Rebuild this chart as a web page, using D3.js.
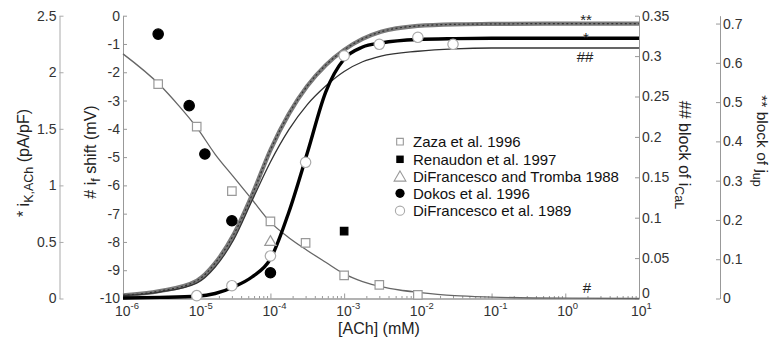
<!DOCTYPE html>
<html><head><meta charset="utf-8">
<script src="https://cdn.jsdelivr.net/npm/d3@7"></script>
<style>
body{margin:0;background:#fff;}
svg{display:block;font-family:"Liberation Sans",Arial,sans-serif;}
</style></head><body>
<svg id="c" width="771" height="342"></svg>
<script>
// ---------- data ----------
const xTicks = [1e-6,1e-5,1e-4,1e-3,1e-2,1e-1,1,10];
const xTickExp = ["-6","-5","-4","-3","-2","-1","0","1"];
const kTicks = [0,0.5,1,1.5,2,2.5];
const kLabels = ["0","0.5","1","1.5","2","2.5"];
const ifTicks = [-10,-9,-8,-7,-6,-5,-4,-3,-2,-1,0];
const ifLabels = ["-10","-9","-8","-7","-6","-5","-4","-3","-2","-1","0"];
const calTicks = [0,0.05,0.1,0.15,0.2,0.25,0.3,0.35];
const calLabels = ["0","0.05","0.1","0.15","0.2","0.25","0.3","0.35"];
const upTicks = [0,0.1,0.2,0.3,0.4,0.5,0.6,0.7];
const upLabels = ["0","0.1","0.2","0.3","0.4","0.5","0.6","0.7"];

// model curves
const curveConc = [1e-6,3.16e-6,1e-5,1.78e-5,3.16e-5,5.62e-5,1e-4,1.78e-4,3.16e-4,5.62e-4,1e-3,1.78e-3,3.16e-3,1e-2,3.16e-2,1e-1,1,10];
const kachCurve = [0.005,0.01,0.02,0.044,0.102,0.19,0.35,0.765,1.286,1.825,2.117,2.223,2.259,2.29,2.297,2.30,2.30,2.30];
const calCurve  = [0.0037,0.008,0.019,0.039,0.0725,0.121,0.169,0.209,0.240,0.263,0.281,0.293,0.300,0.306,0.309,0.310,0.310,0.310];
const upCurve   = [0.008,0.019,0.045,0.090,0.162,0.263,0.378,0.470,0.541,0.594,0.633,0.661,0.679,0.694,0.698,0.699,0.70,0.70];
const ifConc  = [1e-6,3.16e-6,5.62e-6,1e-5,1.78e-5,3.16e-5,5.62e-5,1e-4,1.78e-4,3.16e-4,5.62e-4,1e-3,1.78e-3,3.16e-3,5.62e-3,1e-2,3.16e-2,0.1,1,10];
const ifCurve = [-1.35,-2.45,-3.16,-3.95,-4.9,-5.7,-6.5,-7.3,-7.85,-8.3,-8.72,-9.13,-9.4,-9.58,-9.7,-9.78,-9.9,-9.95,-9.99,-10];

// experimental data
const zazaConc  = [3e-6,1e-5,3e-5,1e-4,3e-4,1e-3,3e-3,1e-2];
const zazaShift = [-2.42,-3.92,-6.2,-7.27,-8.03,-9.18,-9.52,-9.87];
const renaudonConc = [1e-3];
const renaudonShift = [-7.62];
const tromConc = [1e-4];
const tromShift = [-7.97];
const dokosConc  = [3e-6,7.9e-6,1.29e-5,3e-5,1e-4];
const dokosShift = [-0.65,-3.18,-4.89,-7.25,-9.09];
const difConc = [1e-5,3e-5,1e-4,3e-4,1e-3,3e-3,1e-2,3e-2];
const difKach = [0.025,0.113,0.376,1.204,2.146,2.247,2.309,2.247];

const legendNames = ["Zaza et al. 1996","Renaudon et al. 1997","DiFrancesco and Tromba 1988","Dokos et al. 1996","DiFrancesco et al. 1989"];

// ---------- layout ----------
const svg = d3.select("#c");
const X0=123, X1=639, YB=298.5, YT=15.7;
const FONT='"Liberation Sans",Arial,sans-serif';
const x = d3.scaleLog().domain([1e-6,10]).range([X0,X1]);
const yK = d3.scaleLinear().domain([0,2.5]).range([YB,YT]);
const yIf = d3.scaleLinear().domain([-10,0]).range([YB,YT]);
const yCaL = d3.scaleLinear().domain([0,0.35]).range([YB,YT]);
const yUp = d3.scaleLinear().domain([0,0.72]).range([YB,YT]);

function styleAxis(g, col){
  g.attr("font-family",FONT).attr("font-size",14);
  g.select(".domain").attr("stroke",col||"#999");
  g.selectAll(".tick line").attr("stroke",col||"#999");
  g.selectAll(".tick text").attr("fill","#333");
}

// left outer axis
svg.append("g").attr("transform","translate(59.5,0)")
  .call(d3.axisLeft(yK).tickValues(kTicks).tickFormat((d,i)=>kLabels[i]).tickSize(-4).tickSizeOuter(0).tickPadding(3))
  .call(g=>styleAxis(g,"#aaa"));
// left inner axis
svg.append("g").attr("transform",`translate(${X0},0)`)
  .call(d3.axisLeft(yIf).tickValues(ifTicks).tickFormat((d,i)=>ifLabels[i]).tickSize(-4).tickSizeOuter(0).tickPadding(3))
  .call(g=>styleAxis(g,"#999"));
// right axis
svg.append("g").attr("transform",`translate(${X1},0)`)
  .call(d3.axisRight(yCaL).tickValues(calTicks).tickFormat((d,i)=>calLabels[i]).tickSize(-4).tickSizeOuter(0).tickPadding(3))
  .call(g=>styleAxis(g,"#999"))
  .call(g=>g.selectAll(".tick text").filter(d=>d===0).attr("dy","-0.1em"));
// far right axis
svg.append("g").attr("transform","translate(720,0)")
  .call(d3.axisRight(yUp).tickValues(upTicks).tickFormat((d,i)=>upLabels[i]).tickSize(-4).tickSizeOuter(0).tickPadding(3))
  .call(g=>styleAxis(g,"#999"));

// x axis
const minors=[];
xTicks.slice(0,-1).forEach(t=>{for(let k=2;k<10;k++) minors.push(t*k);});
svg.append("g").attr("transform",`translate(0,${YB})`)
  .call(d3.axisBottom(x).tickValues(minors).tickSize(-2.5).tickSizeOuter(0).tickFormat(""))
  .call(g=>styleAxis(g,"#999"));
svg.append("g").attr("transform",`translate(0,${YB})`)
  .call(d3.axisBottom(x).tickValues(xTicks).tickSize(-5).tickSizeOuter(0).tickFormat(""))
  .call(g=>styleAxis(g,"#999"));
xTicks.forEach((t,i)=>{
  const tx = svg.append("text").attr("x",x(t)-8).attr("y",315.5)
    .attr("font-family",FONT).attr("font-size",14).attr("fill","#333");
  tx.append("tspan").text("10");
  tx.append("tspan").attr("dy",-6.5).attr("font-size",9.5).text(xTickExp[i]);
});

// axis titles
svg.append("text").attr("x",379).attr("y",334).attr("text-anchor","middle")
  .attr("font-family",FONT).attr("font-size",16).attr("fill","#222").text("[ACh] (mM)");

function title(tx,ty,rot,main,sub,tail,fs){
  const t = svg.append("text").attr("transform",`translate(${tx},${ty}) rotate(${rot})`)
    .attr("text-anchor","middle").attr("font-family",FONT).attr("font-size",fs||16).attr("fill","#222");
  t.append("tspan").text(main);
  t.append("tspan").attr("dy",4).attr("font-size",12.5).text(sub);
  if(tail) t.append("tspan").attr("dy",-4).text(tail);
}
title(29,163,-90,"* i","K,ACh"," (pA/pF)");
title(96,152,-90,"# i","f"," shift (mV)");
title(679,155,90,"## block of i","CaL","");
title(757,141,90,"** block of j","up","",15.5);

// ---------- curves ----------
const line = d3.line().curve(d3.curveMonotoneX);
const pts = (xs,ys,sc)=>xs.map((c,i)=>[x(c),sc(ys[i])]);

svg.append("path").attr("d",line(pts(ifConc,ifCurve,yIf)))
  .attr("fill","none").attr("stroke","#666").attr("stroke-width",1.3);
svg.append("path").attr("d",line(pts(curveConc,upCurve,yUp)))
  .attr("fill","none").attr("stroke","#7a7a7a").attr("stroke-width",4.2);
svg.append("path").attr("d",line(pts(curveConc,upCurve,yUp)))
  .attr("fill","none").attr("stroke","#333").attr("stroke-width",1.2).attr("stroke-dasharray","2,2.5");
svg.append("path").attr("d",line(pts(curveConc,calCurve,yCaL)))
  .attr("fill","none").attr("stroke","#333").attr("stroke-width",1.3);
svg.append("path").attr("d",line(pts(curveConc,kachCurve,yK)))
  .attr("fill","none").attr("stroke","#000").attr("stroke-width",3.4);

// ---------- markers ----------
const sqr = d3.symbol().type(d3.symbolSquare);
const tri = d3.symbol().type(d3.symbolTriangle);
function squares(xs,ys,sc,fill,stroke,size){
  svg.append("g").selectAll("path").data(xs).join("path")
    .attr("transform",(d,i)=>`translate(${x(d)},${sc(ys[i])})`)
    .attr("d",sqr.size(size)()).attr("fill",fill).attr("stroke",stroke).attr("stroke-width",1.2);
}
function circles(xs,ys,sc,fill,stroke,r){
  svg.append("g").selectAll("circle").data(xs).join("circle")
    .attr("cx",d=>x(d)).attr("cy",(d,i)=>sc(ys[i])).attr("r",r)
    .attr("fill",fill).attr("stroke",stroke).attr("stroke-width",1.2);
}
squares(zazaConc,zazaShift,yIf,"#fff","#999",72);
squares(renaudonConc,renaudonShift,yIf,"#000","#000",56);
svg.append("g").selectAll("path").data(tromConc).join("path")
  .attr("transform",(d,i)=>`translate(${x(d)},${yIf(tromShift[i])+1})`)
  .attr("d",tri.size(55)()).attr("fill","#fff").attr("stroke","#999").attr("stroke-width",1.2);
circles(dokosConc,dokosShift,yIf,"#000","#000",5.2);
circles(difConc,difKach,yK,"#fff","#aaa",5.2);

// ---------- legend ----------
const LX=400, LT=413, LY=[141.7,159.3,176.7,193.3,210.7];
svg.append("path").attr("transform",`translate(${LX},${LY[0]})`).attr("d",sqr.size(44)())
  .attr("fill","#fff").attr("stroke","#999").attr("stroke-width",1.1);
svg.append("path").attr("transform",`translate(${LX},${LY[1]})`).attr("d",sqr.size(56)())
  .attr("fill","#000");
svg.append("path").attr("transform",`translate(${LX},${LY[2]+1})`).attr("d",tri.size(60)())
  .attr("fill","#fff").attr("stroke","#999").attr("stroke-width",1.1);
svg.append("circle").attr("cx",LX).attr("cy",LY[3]).attr("r",4.6).attr("fill","#000");
svg.append("circle").attr("cx",LX).attr("cy",LY[4]).attr("r",4.6).attr("fill","#fff").attr("stroke","#aaa").attr("stroke-width",1.1);
legendNames.forEach((n,i)=>{
  svg.append("text").attr("x",LT).attr("y",LY[i]+5.2).attr("font-family",FONT)
    .attr("font-size",15).attr("fill","#111").text(n);
});

// curve labels
const curveLabels = [["**",586,25],["*",586,43],["##",585,62],["#",587,293]];
curveLabels.forEach(([t,lx,ly])=>{
  svg.append("text").attr("x",lx).attr("y",ly).attr("text-anchor","middle")
    .attr("font-family",FONT).attr("font-size",15).attr("fill","#222").text(t);
});
</script>
</body></html>
